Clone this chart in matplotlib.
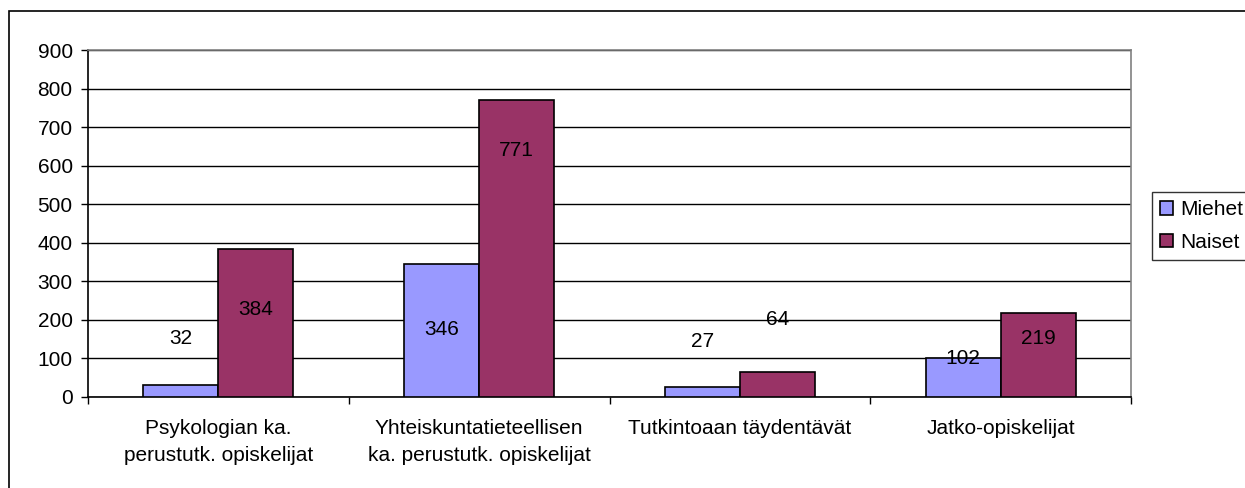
import numpy as np
import matplotlib
matplotlib.use('Agg')
import matplotlib.pyplot as plt
from matplotlib.patches import Rectangle

plt.rcParams['font.family'] = ['Liberation Sans', 'DejaVu Sans']

# data
categories = ['Psykologian ka.\nperustutk. opiskelijat',
              'Yhteiskuntatieteellisen\nka. perustutk. opiskelijat',
              'Tutkintoaan täydentävät',
              'Jatko-opiskelijat']
miehet = [32, 346, 27, 102]
naiset = [384, 771, 64, 219]
yticks = [0, 100, 200, 300, 400, 500, 600, 700, 800, 900]

# where the value labels sit (data units, as in the original chart)
miehet_label_y = [153, 174, 145, 101]
naiset_label_y = [226, 640, 202, 153]

FS = 15

fig = plt.figure(figsize=(12.45, 4.88), dpi=100)
ax = fig.add_axes([88 / 1245, 91 / 488, 1043 / 1245, 347 / 488])

x = np.arange(len(categories))
w = 0.288
ax.bar(x - w / 2, miehet, w, color='#9999FF', edgecolor='black', linewidth=1.2,
       label='Miehet', zorder=3)
ax.bar(x + w / 2, naiset, w, color='#993366', edgecolor='black', linewidth=1.2,
       label='Naiset', zorder=3)

for i in range(len(categories)):
    ax.text(x[i] - w / 2, miehet_label_y[i], str(miehet[i]), ha='center', va='center',
            fontsize=FS, zorder=4)
    ax.text(x[i] + w / 2, naiset_label_y[i], str(naiset[i]), ha='center', va='center',
            fontsize=FS, zorder=4)

ax.set_xlim(-0.5, len(categories) - 0.5)
ax.set_ylim(0, 900)
ax.set_yticks(yticks)
ax.set_yticklabels([str(v) for v in yticks], fontsize=FS)
ax.yaxis.grid(True, color='black', linewidth=1.0, zorder=0)
ax.set_axisbelow(True)

# category labels between boundary ticks
ax.set_xticks(np.arange(-0.5, len(categories), 1.0))
ax.set_xticklabels([])
ax.set_xticks(x, minor=True)
ax.set_xticklabels(categories, minor=True, fontsize=FS, linespacing=1.55)
ax.tick_params(axis='x', which='minor', length=0, pad=16)
ax.tick_params(axis='x', which='major', direction='out', length=5, width=1)
ax.tick_params(axis='y', direction='out', length=5, width=1, pad=6)

for s in ['left', 'bottom']:
    ax.spines[s].set_color('black')
    ax.spines[s].set_linewidth(1.2)
for s in ['top', 'right']:
    ax.spines[s].set_color('#808080')
    ax.spines[s].set_linewidth(1.2)

leg = fig.legend(loc='upper left', bbox_to_anchor=(1152 / 1245, 1 - 192 / 488),
                 fontsize=FS, frameon=True, fancybox=False, edgecolor='black',
                 handlelength=0.6, handleheight=0.6, handletextpad=0.35,
                 borderpad=0.4, labelspacing=0.65, borderaxespad=0)
leg.get_frame().set_linewidth(1.0)

# outer chart border
fig.patches.append(Rectangle((9 / 1245, -0.01), 1.1, 1 - 11 / 488 + 0.01,
                             transform=fig.transFigure, fill=False,
                             edgecolor='black', linewidth=1.2))

fig.savefig('out.png', dpi=100)
